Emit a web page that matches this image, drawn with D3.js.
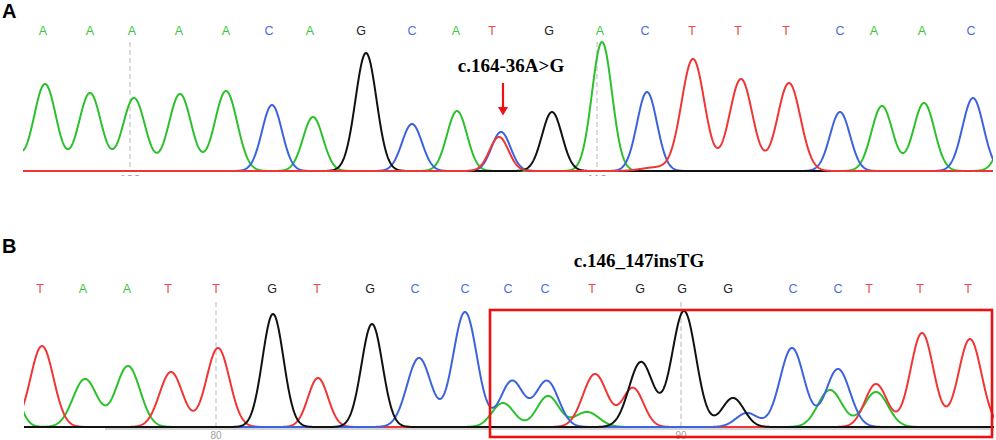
<!DOCTYPE html>
<html><head><meta charset="utf-8">
<script src="https://cdn.jsdelivr.net/npm/d3@7"></script>
<style>body{margin:0;background:#fff}svg{display:block}</style>
</head><body><svg id="c" width="996" height="440"></svg>
<script>
// ---------- DATA (scan positions, intensities, peak widths) ----------
const basesA = ["A","A","A","A","A","C","A","G","C","A","T","G","A","C","T","T","T","C","A","A","C"];
const baseScanA = [20,67,109,156,203,246,287,338,389,433,469,526,577,622,669,715,763,817,851,899,948];
const basesB = ["T","A","A","T","T","G","T","G","C","C","C","C","T","G","G","G","C","C","T","T","T"];
const baseScanB = [16,59,103,144,192,248,293,346,391,441,484,521,568,616,658,704,769,814,845,896,944];

// peaks: [scan position, intensity, width(sigma)]
const peaksA_A = [[-23,700,11],[22,870,11.2],[67,780,11.2],[111,730,11.2],[157,770,11.2],[203,800,11.2],[290,540,10],[434,600,10],[579,1290,10],[859,650,10.5],[901,680,10.5],[991,700,11]];
const peaksA_C = [[249,660,10],[389,470,10],[478,390,9.5],[624,790,10],[817,590,10],[950,730,10.5]];
const peaksA_G = [[343,1180,10.5],[529,590,10]];
const peaksA_T = [[476,340,9.5],[632,35,14],[670,1120,11.5],[718,920,11.5],[766,880,11.5]];

const peaksB_A = [[-16,500,10],[61,480,12],[104,610,12],[479,240,11],[524,310,11],[563,150,12],[806,370,12],[852,350,12]];
const peaksB_C = [[395,690,12],[441,1150,12],[488,460,11.5],[523,460,11.5],[723,140,11],[768,790,12],[814,580,12]];
const peaksB_G = [[249,1130,10.5],[348,1030,10.5],[617,650,12],[660,1160,12],[709,290,11]];
const peaksB_T = [[18,810,11.5],[147,550,11.5],[194,790,11.5],[294,490,10],[571,530,12],[609,390,10.5],[852,430,11],[898,940,11.5],[946,880,11.5]];

const gridScanA = [107,574], gridLabelA = ["100","110"];
const gridScanB = [192,657], gridLabelB = ["80","90"];

const mutationA = {label:"c.164-36A>G", scan:480, textScan:488};
const mutationB = {label:"c.146_147insTG", textScan:615, box:[466,968]};

// ---------- DRAWING ----------
const colors = {A:"#2cc12c", C:"#3d62de", G:"#111111", T:"#f03535"};
const letterColors = {A:"#3cc83c", C:"#4a6ee0", G:"#222222", T:"#f04848"};
const svg = d3.select("#c");
svg.append("rect").attr("width",996).attr("height",440).attr("fill","#fff");

function gauss(peaks, s){
  let v = 0;
  for (const [p,h,w] of peaks) v += h*Math.exp(-((s-p)*(s-p))/(2*w*w));
  return v;
}

function drawPanel(cfg){
  const x = d3.scaleLinear().domain([0,970]).range([cfg.left, cfg.left+970]);
  const y = d3.scaleLinear().domain([0,1300]).range([cfg.base, cfg.base-130]);
  const g = svg.append("g");
  const clipId = "clip"+cfg.name;
  svg.append("clipPath").attr("id",clipId).append("rect")
     .attr("x",x(0)).attr("y",cfg.base-150).attr("width",x(970)-x(0)).attr("height",153);

  g.append("text").attr("x",2).attr("y",cfg.letterY).text(cfg.name)
    .attr("font-family","Liberation Sans, Arial, sans-serif").attr("font-weight","bold")
    .attr("font-size",20).attr("fill","#000");

  if (cfg.axisFrom !== undefined){
    g.append("line").attr("x1",x(cfg.axisFrom)).attr("x2",x(970))
      .attr("y1",cfg.base+2).attr("y2",cfg.base+2).attr("stroke","#c4c4c4").attr("stroke-width",1.5);
  }

  const tclip = "tclip"+cfg.name;
  svg.append("clipPath").attr("id",tclip).append("rect")
     .attr("x",0).attr("y",cfg.base).attr("width",996).attr("height",cfg.tickClip);
  cfg.grid.forEach((s,i)=>{
    g.append("line").attr("x1",x(s)).attr("x2",x(s)).attr("y1",cfg.gridTop).attr("y2",cfg.base)
      .attr("stroke","#c8c8c8").attr("stroke-width",1.3).attr("stroke-dasharray","5,3");
    g.append("text").attr("x",x(s)).attr("y",cfg.base+cfg.tickDy).attr("text-anchor","middle")
      .attr("clip-path",`url(#${tclip})`)
      .attr("font-family","Liberation Sans, Arial, sans-serif").attr("font-size",cfg.tickSize)
      .attr("fill","#a0a0a0").text(cfg.gridLabels[i]);
  });

  cfg.bases.forEach((b,i)=>{
    g.append("text").attr("x",x(cfg.baseScan[i])).attr("y",cfg.letterRowY).attr("text-anchor","middle")
      .attr("font-family","Liberation Sans, Arial, sans-serif").attr("font-size",12.5)
      .attr("fill",letterColors[b]).text(b);
  });

  const samples = d3.range(-1, 971.5, 0.5);
  const line = d3.line().x(d=>x(d[0])).y(d=>y(d[1])).curve(d3.curveLinear);
  const tg = g.append("g").attr("clip-path",`url(#${clipId})`);
  cfg.order.forEach(ch=>{
    const pts = samples.map(s=>[s, gauss(cfg.peaks[ch], s)]);
    tg.append("path").attr("d",line(pts)).attr("fill","none")
      .attr("stroke",colors[ch]).attr("stroke-width",2).attr("stroke-linejoin","round");
  });
  return {x,y,g};
}

const pA = drawPanel({name:"A", left:23, base:171, letterY:18, letterRowY:35, gridTop:42,
  tickDy:13, tickClip:5, tickSize:13,
  grid:gridScanA, gridLabels:gridLabelA, bases:basesA, baseScan:baseScanA,
  peaks:{A:peaksA_A,C:peaksA_C,G:peaksA_G,T:peaksA_T}, order:["A","C","G","T"]});

const pB = drawPanel({name:"B", left:24, base:427, letterY:253, letterRowY:293, gridTop:302,
  tickDy:12, tickClip:20, tickSize:10, axisFrom:81,
  grid:gridScanB, gridLabels:gridLabelB, bases:basesB, baseScan:baseScanB,
  peaks:{A:peaksB_A,C:peaksB_C,G:peaksB_G,T:peaksB_T}, order:["A","T","C","G"]});

pA.g.append("text").attr("x",pA.x(mutationA.textScan)).attr("y",pA.y(990)).attr("text-anchor","middle")
  .attr("font-family","Liberation Serif, Times New Roman, serif").attr("font-weight","bold")
  .attr("font-size",19).attr("fill","#000").text(mutationA.label);
pA.g.append("line").attr("x1",pA.x(mutationA.scan)).attr("x2",pA.x(mutationA.scan))
  .attr("y1",pA.y(880)).attr("y2",pA.y(620)).attr("stroke","#ee1111").attr("stroke-width",2.2);
pA.g.append("path")
  .attr("d",`M${pA.x(mutationA.scan)-5},${pA.y(640)} L${pA.x(mutationA.scan)+5},${pA.y(640)} L${pA.x(mutationA.scan)},${pA.y(555)} Z`)
  .attr("fill","#ee1111");

pB.g.append("text").attr("x",pB.x(mutationB.textScan)).attr("y",pB.y(1600)).attr("text-anchor","middle")
  .attr("font-family","Liberation Serif, Times New Roman, serif").attr("font-weight","bold")
  .attr("font-size",19).attr("fill","#000").text(mutationB.label);
pB.g.append("rect").attr("x",pB.x(mutationB.box[0])).attr("y",pB.y(1170))
  .attr("width",pB.x(mutationB.box[1])-pB.x(mutationB.box[0])).attr("height",pB.y(-100)-pB.y(1170))
  .attr("fill","none").attr("stroke","#ee1111").attr("stroke-width",2.6);
</script></body></html>
